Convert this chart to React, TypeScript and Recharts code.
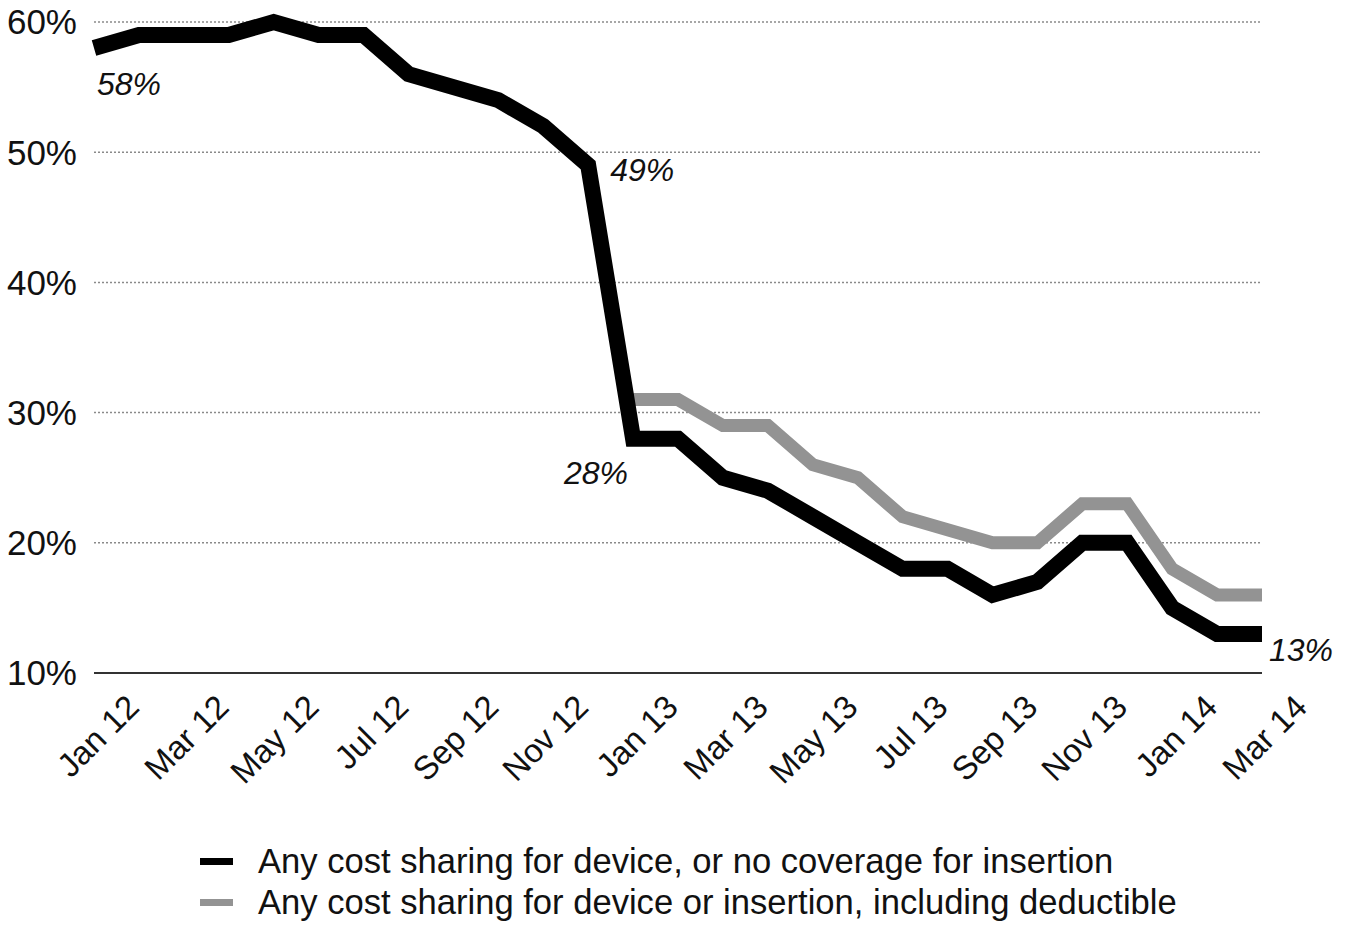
import React from 'react';
import { CartesianGrid, Line, LineChart, XAxis, YAxis } from 'recharts';

const MONTHS = [
  'Jan 12', 'Feb 12', 'Mar 12', 'Apr 12', 'May 12', 'Jun 12', 'Jul 12', 'Aug 12', 'Sep 12',
  'Oct 12', 'Nov 12', 'Dec 12', 'Jan 13', 'Feb 13', 'Mar 13', 'Apr 13', 'May 13', 'Jun 13',
  'Jul 13', 'Aug 13', 'Sep 13', 'Oct 13', 'Nov 13', 'Dec 13', 'Jan 14', 'Feb 14', 'Mar 14',
];

const NO_COVERAGE = [
  58, 59, 59, 59, 60, 59, 59, 56, 55, 54, 52, 49, 28, 28, 25, 24, 22, 20, 18, 18, 16, 17, 20, 20, 15, 13, 13,
];

const WITH_DEDUCTIBLE = [
  null, null, null, null, null, null, null, null, null, null, null, null,
  31, 31, 29, 29, 26, 25, 22, 21, 20, 20, 23, 23, 18, 16, 16,
];

const Y_TICKS = [10, 20, 30, 40, 50, 60];
const LABELLED_POINTS = [0, 11, 12, 26];

const SERIES_NAMES = [
  'Any cost sharing for device, or no coverage for insertion',
  'Any cost sharing for device or insertion, including deductible',
];

const data = MONTHS.map((month, i) => ({
  month,
  noCoverage: NO_COVERAGE[i],
  withDeductible: WITH_DEDUCTIBLE[i],
}));

const FONT = '"Liberation Sans", Arial, Helvetica, sans-serif';

// where each annotation sits relative to its point
const labelStyle: Record<number, { dx: number; dy: number; anchor: 'start' | 'end' }> = {
  0: { dx: 3, dy: 47, anchor: 'start' },
  11: { dx: 22, dy: 16, anchor: 'start' },
  12: { dx: -5, dy: 45, anchor: 'end' },
  26: { dx: 7, dy: 27, anchor: 'start' },
};

function PointLabel(props: any) {
  const { x, y, index, value } = props;
  if (!LABELLED_POINTS.includes(index)) return null;
  const s = labelStyle[index];
  return (
    <text
      x={x + s.dx}
      y={y + s.dy}
      textAnchor={s.anchor}
      fontFamily={FONT}
      fontStyle="italic"
      fontSize={32}
      fill="#111"
    >
      {`${value}%`}
    </text>
  );
}

function MonthTick(props: any) {
  const { x, y, payload } = props;
  return (
    <g transform={`translate(${x + 47},${y + 28})`}>
      <text x={0} y={0} textAnchor="end" transform="rotate(-45)" fontFamily={FONT} fontSize={33} fill="#111">
        {payload.value}
      </text>
    </g>
  );
}

export default function App() {
  return (
    <div style={{ position: 'absolute', left: 0, top: 0, width: 1350, height: 929, background: '#fff' }}>
      <LineChart
        width={1350}
        height={929}
        data={data}
        margin={{ top: 22, right: 88, left: 0, bottom: 0 }}
      >
        <CartesianGrid horizontal vertical={false} stroke="#8a8a8a" strokeDasharray="2 2" strokeWidth={1.5} />
        <XAxis
          dataKey="month"
          interval={1}
          height={256}
          tick={<MonthTick />}
          tickLine={false}
          axisLine={{ stroke: '#333', strokeWidth: 2 }}
        />
        <YAxis
          domain={[10, 60]}
          ticks={Y_TICKS}
          width={94}
          axisLine={false}
          tickLine={false}
          tickSize={0}
          tickMargin={17}
          tickFormatter={(v: number) => `${v}%`}
          tick={{ fontFamily: FONT, fontSize: 35, fill: '#111' }}
        />
        <Line
          dataKey="withDeductible"
          stroke="#939393"
          strokeWidth={13}
          dot={false}
          activeDot={false}
          isAnimationActive={false}
        />
        <Line
          dataKey="noCoverage"
          stroke="#000"
          strokeWidth={16}
          dot={false}
          activeDot={false}
          isAnimationActive={false}
          label={<PointLabel />}
        />
      </LineChart>
      <div style={{ position: 'absolute', left: 200, top: 841, fontFamily: FONT, fontSize: 34.6, color: '#111' }}>
        {SERIES_NAMES.map((name, i) => (
          <div key={name} style={{ display: 'flex', alignItems: 'center', height: 41 }}>
            <span
              style={{
                display: 'inline-block',
                width: 33,
                height: 7,
                background: i === 0 ? '#000' : '#939393',
                marginRight: 25,
              }}
            />
            <span>{name}</span>
          </div>
        ))}
      </div>
    </div>
  );
}
